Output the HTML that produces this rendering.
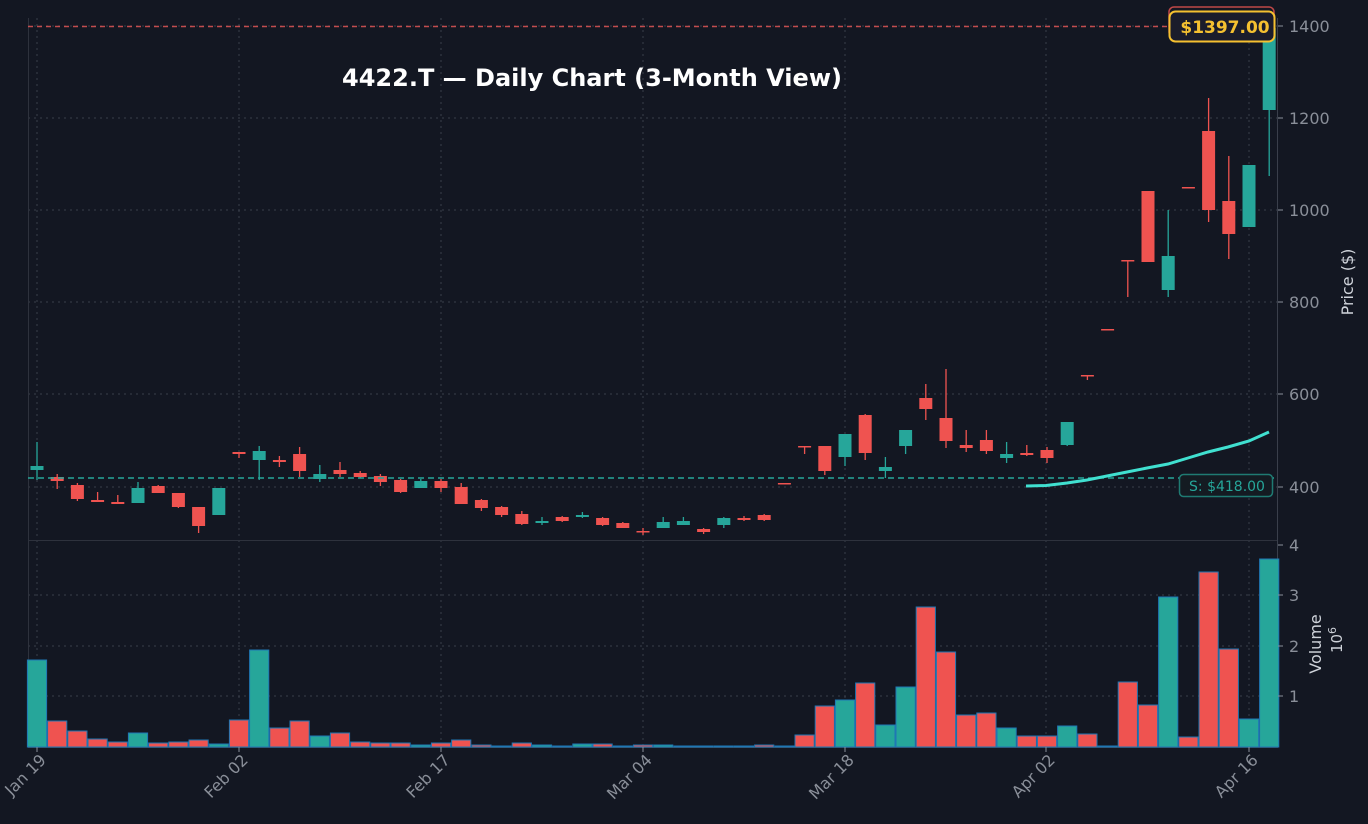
<!DOCTYPE html>
<html><head><meta charset="utf-8"><style>
html,body{margin:0;padding:0;background:#131722;}
svg{display:block;font-family:"DejaVu Sans","Liberation Sans",sans-serif;}
</style></head><body>
<svg id="s" width="1368" height="824" viewBox="0 0 1368 824" xmlns="http://www.w3.org/2000/svg">
<rect width="1368" height="824" fill="#131722"/>
<g id="grid" stroke="#3a3f4b" stroke-width="1" stroke-dasharray="2,4"></g>
<line x1="28" y1="540.5" x2="1278" y2="540.5" stroke="#2e323d"/>
<line x1="28.5" y1="18" x2="28.5" y2="747" stroke="#2e323d"/>
<line x1="1277.5" y1="18" x2="1277.5" y2="747" stroke="#3a3f4b"/>
<line x1="28" y1="747.5" x2="1278" y2="747.5" stroke="#3a3f4b"/>
<g id="vol"></g>
<g id="candles"></g>
<line x1="28" y1="26.5" x2="1278" y2="26.5" stroke="#e05555" stroke-width="1.5" stroke-dasharray="5,4" opacity="0.85"/>
<line x1="28" y1="478" x2="1278" y2="478" stroke="#26a69a" stroke-width="1.5" stroke-dasharray="6,4"/>
<polyline fill="none" stroke="#40e0d0" stroke-width="3" points="1026,486 1046,485.5 1067,483 1087,480 1107,476 1127,472 1147,468 1168,464 1188,458 1208,452 1228,447 1249,441 1269,432"/>
<g id="ticks" fill="#8a8f99" font-size="16"></g>
<text x="592" y="86" fill="#ffffff" font-size="24" font-weight="bold" text-anchor="middle">4422.T — Daily Chart (3-Month View)</text>
<rect x="1169" y="7" width="105" height="30" rx="5" fill="none" stroke="#c04848" stroke-width="1.5"/>
<rect x="1169.5" y="11.5" width="105" height="30" rx="6" fill="#1b1c2b" stroke="#f5c030" stroke-width="2"/>
<text x="1225" y="33" fill="#f5c030" font-size="17" font-weight="bold" text-anchor="middle">$1397.00</text>
<rect x="1179.5" y="474.5" width="93" height="22" rx="4" fill="#141b22" stroke="#1f7a72" stroke-width="1.5"/>
<text x="1227" y="491" fill="#26a69a" font-size="14" text-anchor="middle">S: $418.00</text>
<text transform="translate(1353,282) rotate(-90)" fill="#cfd3da" font-size="16" text-anchor="middle">Price ($)</text>
<text transform="translate(1321,644) rotate(-90)" fill="#cfd3da" font-size="16" text-anchor="middle">Volume</text>
<text transform="translate(1342,640) rotate(-90)" fill="#cfd3da" font-size="15" text-anchor="middle">10<tspan dy="-6" font-size="11">6</tspan></text>
</svg>
<script>
var NS="http://www.w3.org/2000/svg";
function el(p,t,a){var e=document.createElementNS(NS,t);for(var k in a)e.setAttribute(k,a[k]);document.getElementById(p).appendChild(e);return e;}
var G="#26a69a",R="#ef5350";
[26,118,210,302,394,487].forEach(function(y){el("grid","line",{x1:28,x2:1278,y1:y,y2:y});});
[595,646,696].forEach(function(y){el("grid","line",{x1:28,x2:1278,y1:y,y2:y});});
var xs=[37,239,441,643,845,1046,1249];
xs.forEach(function(x){el("grid","line",{x1:x,x2:x,y1:18,y2:747});});
var C=[
["g",466,470,442,480],["r",477,481,474,489],["r",485,499,483,501],["r",500,502,492,502],["r",502,504,495,504],
["g",488,503,482,503],["r",486,493,485,493],["r",493,507,493,508],["r",507,526,507,533],["g",488,515,488,515],
["r",452,454,452,458],["g",451,460,446,480],["r",460,462,456,467],["r",454,471,447,477],["g",474,479,465,482],
["r",470,474,462,477],["r",473,477,471,478],["r",476,482,474,486],["r",480,492,479,493],["g",481,488,479,488],
["r",481,488,479,492],["r",487,504,483,504],["r",500,508,499,511],["r",507,515,506,517],["r",514,524,511,525],
["g",521,523,517,525],["r",517,521,516,522],["g",515,517,512,518],["r",518,525,517,526],["r",523,528,522,528],
["r",531,532,528,535],["g",522,528,517,528],["g",521,525,517,525],["r",529,532,528,534],["g",518,525,517,528],
["r",518,520,516,521],["r",515,520,514,521],["r",483,484,483,484],["r",446,447,446,454],["r",446,471,446,475],
["g",434,457,434,466],["r",415,453,414,460],["g",467,471,457,478],["g",430,446,430,454],["r",398,409,384,420],
["r",418,441,369,448],["r",445,448,430,452],["r",440,451,430,454],["g",454,458,442,463],["r",453,455,445,456],
["r",450,458,447,463],["g",422,445,422,446],["r",375,376,375,380],["r",329,330,329,330],["r",260,261,260,297],
["r",191,262,191,262],["g",256,290,210,297],["r",187,188,187,188],["r",131,210,98,222],["r",201,234,156,259],
["g",165,227,165,227],["g",28,110,28,176]];
var V=[660,721,731,739,742,733,743,742,740,744,720,650,728,721,736,733,742,743,743,745,743,740,745,746,743,745,746,744,744,746,745,745,746,746,746,746,745,746,735,706,700,683,725,687,607,652,715,713,728,736,736,726,734,746,682,705,597,737,572,649,719,559];
for(var i=0;i<62;i++){
 var x=37+i*20.2,c=C[i],col=c[0]=="g"?G:R;
 el("candles","line",{x1:x,x2:x,y1:c[3],y2:c[4],stroke:col,"stroke-width":1.3});
 var h=Math.max(c[2]-c[1],1.5);
 el("candles","rect",{x:x-6.5,y:c[1],width:13,height:h,fill:col});
 el("vol","rect",{x:x-9.6,y:V[i],width:19.2,height:747-V[i],fill:col,stroke:"#1f77b4","stroke-width":1});
}
[[1400,26],[1200,118],[1000,210],[800,302],[600,394],[400,487]].forEach(function(t){
 el("ticks","line",{x1:1278,x2:1283,y1:t[1],y2:t[1],stroke:"#8a8f99"});
 var e=el("ticks","text",{x:1289,y:t[1]+6});e.textContent=t[0];});
[[4,545],[3,595],[2,646],[1,696]].forEach(function(t){
 el("ticks","line",{x1:1278,x2:1283,y1:t[1],y2:t[1],stroke:"#8a8f99"});
 var e=el("ticks","text",{x:1289,y:t[1]+6});e.textContent=t[0];});
var L=["Jan 19","Feb 02","Feb 17","Mar 04","Mar 18","Apr 02","Apr 16"];
xs.forEach(function(x,i){
 el("ticks","line",{x1:x,x2:x,y1:747,y2:752,stroke:"#8a8f99"});
 var e=el("ticks","text",{transform:"translate("+(x+10)+",761) rotate(-45)","text-anchor":"end"});e.textContent=L[i];});
</script>
</body></html>
